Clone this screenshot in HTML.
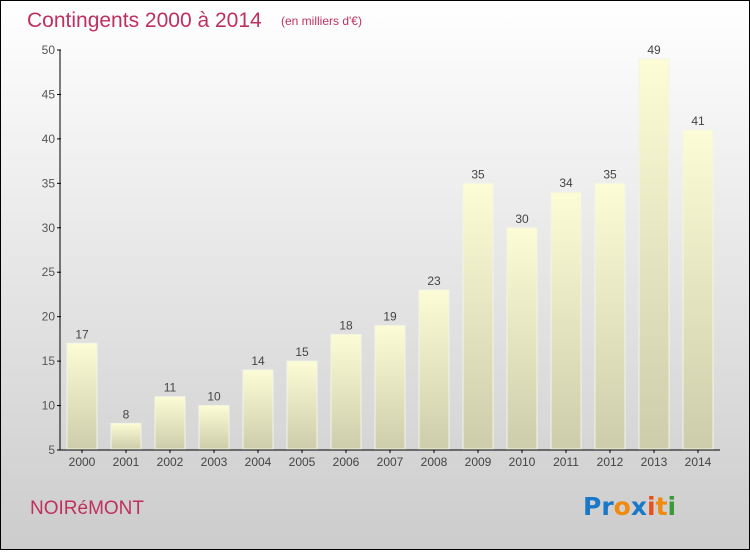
<!DOCTYPE html>
<html><head><meta charset="utf-8"><style>
html,body{margin:0;padding:0}
body{width:750px;height:550px;overflow:hidden;font-family:"Liberation Sans",sans-serif}
</style></head><body>
<svg id="chart" width="750" height="550" xmlns="http://www.w3.org/2000/svg">
<defs>
<linearGradient id="bg" x1="0" y1="0" x2="0" y2="1"><stop offset="0" stop-color="#ffffff"/><stop offset="1" stop-color="#cccccc"/></linearGradient>
<linearGradient id="bar" x1="0" y1="0" x2="0" y2="1"><stop offset="0" stop-color="#fcfcd6"/><stop offset="1" stop-color="#cdcdab"/></linearGradient>
</defs>
<rect x="0.5" y="0.5" width="749" height="549" fill="url(#bg)" stroke="#000"/>
<text x="27" y="27" font-size="21" fill="#c0305e">Contingents 2000 à 2014</text>
<text x="281" y="25" font-size="12" fill="#c0305e">(en milliers d'€)</text>
<text x="30" y="514" font-size="19" fill="#c0305e">NOIRéMONT</text>
<g font-size="25" font-weight="bold" font-family="'DejaVu Sans',sans-serif">
<text x="583" y="515"><tspan fill="#1a78c8">Pr</tspan><tspan fill="#f08a10">o</tspan><tspan fill="#1a78c8">x</tspan><tspan fill="#e8501a">i</tspan><tspan fill="#f08a10">t</tspan><tspan fill="#3a9a3a">i</tspan></text>
</g>
<g id="axes"></g>
<g id="bars"></g>
</svg>
<script>
const years=["2000","2001","2002","2003","2004","2005","2006","2007","2008","2009","2010","2011","2012","2013","2014"];
const values=[17,8,11,10,14,15,18,19,23,35,30,34,35,49,41];
const yTicks=[5,10,15,20,25,30,35,40,45,50];
const NS="http://www.w3.org/2000/svg";
const y0=450,y1=50,vmin=5,vmax=50;
function yS(v){return y0-(v-vmin)/(vmax-vmin)*(y0-y1);}
function xS(i){return 82+i*44;}
function mk(t,a,p){const e=document.createElementNS(NS,t);for(const k in a)e.setAttribute(k,a[k]);p.appendChild(e);return e;}
const ax=document.getElementById('axes'),bg=document.getElementById('bars');
const yl=mk('line',{x1:60,y1:y1,x2:60,y2:y0,stroke:'#000'},ax);


const xl=mk('line',{x1:60,y1:y0,x2:720,y2:y0,stroke:'#000'},ax);


yTicks.forEach(v=>{
  mk('line',{x1:57,y1:yS(v),x2:61,y2:yS(v),stroke:'#000'},ax);
  const t=mk('text',{x:55,y:yS(v)+4,'font-size':12,fill:'#555','text-anchor':'end'},ax);
  t.textContent=v;
  
  
});
years.forEach((yr,i)=>{
  const cx=xS(i),top=yS(values[i]);
  const r=mk('rect',{x:cx-15,y:top,width:30,height:y0-top-1,fill:'url(#bar)',stroke:'#f4f4e4','stroke-width':1},bg);
  
  
  const l=mk('text',{x:cx,y:top-5,'font-size':12,fill:'#444','text-anchor':'middle'},bg);
  l.textContent=values[i];
  
  
  mk('line',{x1:cx,y1:y0,x2:cx,y2:y0+3,stroke:'#000'},ax);
  const xt=mk('text',{x:cx,y:466,'font-size':12,fill:'#444','text-anchor':'middle'},ax);
  xt.textContent=yr;
  
  
});
</script>
</body></html>
